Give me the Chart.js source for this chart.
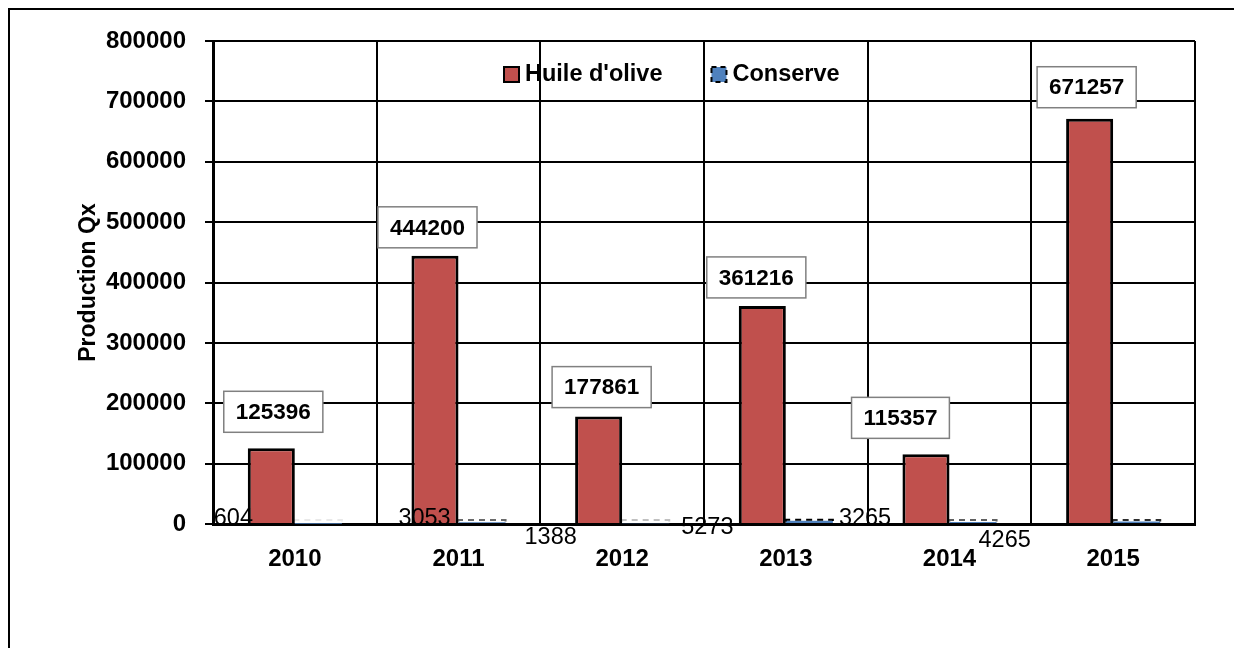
<!DOCTYPE html>
<html>
<head>
<meta charset="utf-8">
<title>Production Qx</title>
<script src="https://cdn.jsdelivr.net/npm/chart.js@4.4.1/dist/chart.umd.min.js"></script>
<style>
  html, body { margin: 0; padding: 0; background: #fff; }
  canvas { display: block; }
</style>
</head>
<body>
<canvas id="chart" width="1234" height="648"></canvas>
<script>
// données de production (Qx)
const annees = ['2010', '2011', '2012', '2013', '2014', '2015'];
const huileOlive = [125396, 444200, 177861, 361216, 115357, 671257];
const conserve = [604, 3053, 1388, 5273, 3265, 4265];
const axeMax = 800000;
const axePas = 100000;

// décalages des étiquettes (px), placées à la main dans le classeur d'origine
const etiqHuileDx = [2, -7.5, 3, -6, -25.5, -3];
const etiqHuileEcart = [16, 8, 9, 8, 16, 11];
const etiqConserveDx = [-85, -57.5, -95, -102, -108, -132];
const etiqConserveDy = [-4, -4, 15, 5, -4, 18];

const POLICE = "'Liberation Sans', Arial, sans-serif";
const ROUGE = '#C0504D';
const BLEU = '#4F81BD';

// cadre extérieur
const cadre = {
  id: 'cadre',
  beforeDraw(chart) {
    const ctx = chart.ctx;
    ctx.save();
    ctx.fillStyle = '#fff';
    ctx.fillRect(0, 0, chart.width, chart.height);
    ctx.strokeStyle = '#000';
    ctx.lineWidth = 2;
    ctx.strokeRect(9, 9, chart.width + 10, chart.height + 10);
    ctx.restore();
  }
};

// contour pointillé des barres "Conserve" + étiquettes de valeurs
const etiquettes = {
  id: 'etiquettes',
  afterDatasetsDraw(chart) {
    const ctx = chart.ctx;
    const metaH = chart.getDatasetMeta(0);
    const metaC = chart.getDatasetMeta(1);
    ctx.save();

    metaC.data.forEach(bar => {
      const w = bar.width;
      const haut = bar.base - bar.y;
      const top = Math.min(bar.y, bar.base - 2) - 1;
      ctx.globalAlpha = Math.min(1, 0.3 + haut / 3);
      ctx.setLineDash([6, 5]);
      ctx.strokeStyle = '#000';
      ctx.lineWidth = 2;
      ctx.beginPath();
      ctx.moveTo(bar.x - w / 2, bar.base - 1.5);
      ctx.lineTo(bar.x - w / 2, top);
      ctx.lineTo(bar.x + w / 2, top);
      ctx.lineTo(bar.x + w / 2, bar.base - 1.5);
      ctx.stroke();
    });
    ctx.globalAlpha = 1;
    ctx.setLineDash([]);

    ctx.font = 'bold 22.5px ' + POLICE;
    ctx.textAlign = 'center';
    ctx.textBaseline = 'middle';
    metaH.data.forEach((bar, i) => {
      const txt = String(huileOlive[i]);
      const w = ctx.measureText(txt).width + 24;
      const h = 41;
      const cx = bar.x + etiqHuileDx[i];
      const bas = bar.y - etiqHuileEcart[i];
      ctx.fillStyle = '#fff';
      ctx.fillRect(cx - w / 2, bas - h, w, h);
      ctx.strokeStyle = '#808080';
      ctx.lineWidth = 1.5;
      ctx.strokeRect(cx - w / 2, bas - h, w, h);
      ctx.fillStyle = '#000';
      ctx.fillText(txt, cx, bas - h / 2 + 1);
    });

    ctx.font = '23.5px ' + POLICE;
    metaC.data.forEach((bar, i) => {
      ctx.fillStyle = '#000';
      ctx.fillText(String(conserve[i]), bar.x + etiqConserveDx[i], bar.base + etiqConserveDy[i]);
    });
    ctx.restore();
  }
};

// légende dans la zone de tracé
const legende = {
  id: 'legende',
  afterDraw(chart) {
    const ctx = chart.ctx;
    const area = chart.chartArea;
    const y = area.top + 26;
    let x = area.left + 291;
    ctx.save();
    ctx.font = 'bold 23.5px ' + POLICE;
    ctx.textBaseline = 'middle';
    chart.data.datasets.forEach((ds, i) => {
      ctx.fillStyle = ds.backgroundColor;
      ctx.fillRect(x, y, 15, 15);
      ctx.strokeStyle = '#000';
      ctx.lineWidth = 2;
      ctx.setLineDash(i === 1 ? [5, 4] : []);
      ctx.strokeRect(x, y, 15, 15);
      ctx.setLineDash([]);
      ctx.fillStyle = '#000';
      ctx.fillText(ds.label, x + 21, y + 8);
      x += 21 + ctx.measureText(ds.label).width + 49;
    });
    ctx.restore();
  }
};

const policeAxe = { family: POLICE, size: 24, weight: 'bold' };

new Chart(document.getElementById('chart').getContext('2d'), {
  type: 'bar',
  data: {
    labels: annees,
    datasets: [
      {
        label: "Huile d'olive",
        data: huileOlive,
        backgroundColor: ROUGE,
        borderColor: '#000',
        borderWidth: 3,
        categoryPercentage: 0.575,
        barPercentage: 1
      },
      {
        label: 'Conserve',
        data: conserve,
        backgroundColor: BLEU,
        borderWidth: 0,
        categoryPercentage: 0.575,
        barPercentage: 1
      }
    ]
  },
  options: {
    responsive: false,
    animation: false,
    layout: { padding: { top: 41, right: 39, left: 0, bottom: 0 } },
    plugins: { legend: { display: false }, tooltip: { enabled: false } },
    scales: {
      x: {
        grid: { color: '#000', lineWidth: 2, drawTicks: false, offset: true },
        border: { color: '#000', width: 3 },
        ticks: { color: '#000', font: policeAxe, padding: 21, maxRotation: 0 },
        afterFit: s => { s.height = 124; }
      },
      y: {
        min: 0,
        max: axeMax,
        grid: { color: '#000', lineWidth: 2, tickLength: 8 },
        border: { color: '#000', width: 3 },
        ticks: {
          stepSize: axePas,
          color: '#000',
          font: policeAxe,
          padding: 19,
          callback: v => String(v)
        },
        title: {
          display: true,
          text: 'Production Qx',
          color: '#000',
          font: { family: POLICE, size: 23, weight: 'bold' },
          padding: { top: 75, bottom: 0 }
        },
        afterFit: s => { s.width = 213; }
      }
    }
  },
  plugins: [cadre, etiquettes, legende]
});
</script>
</body>
</html>
